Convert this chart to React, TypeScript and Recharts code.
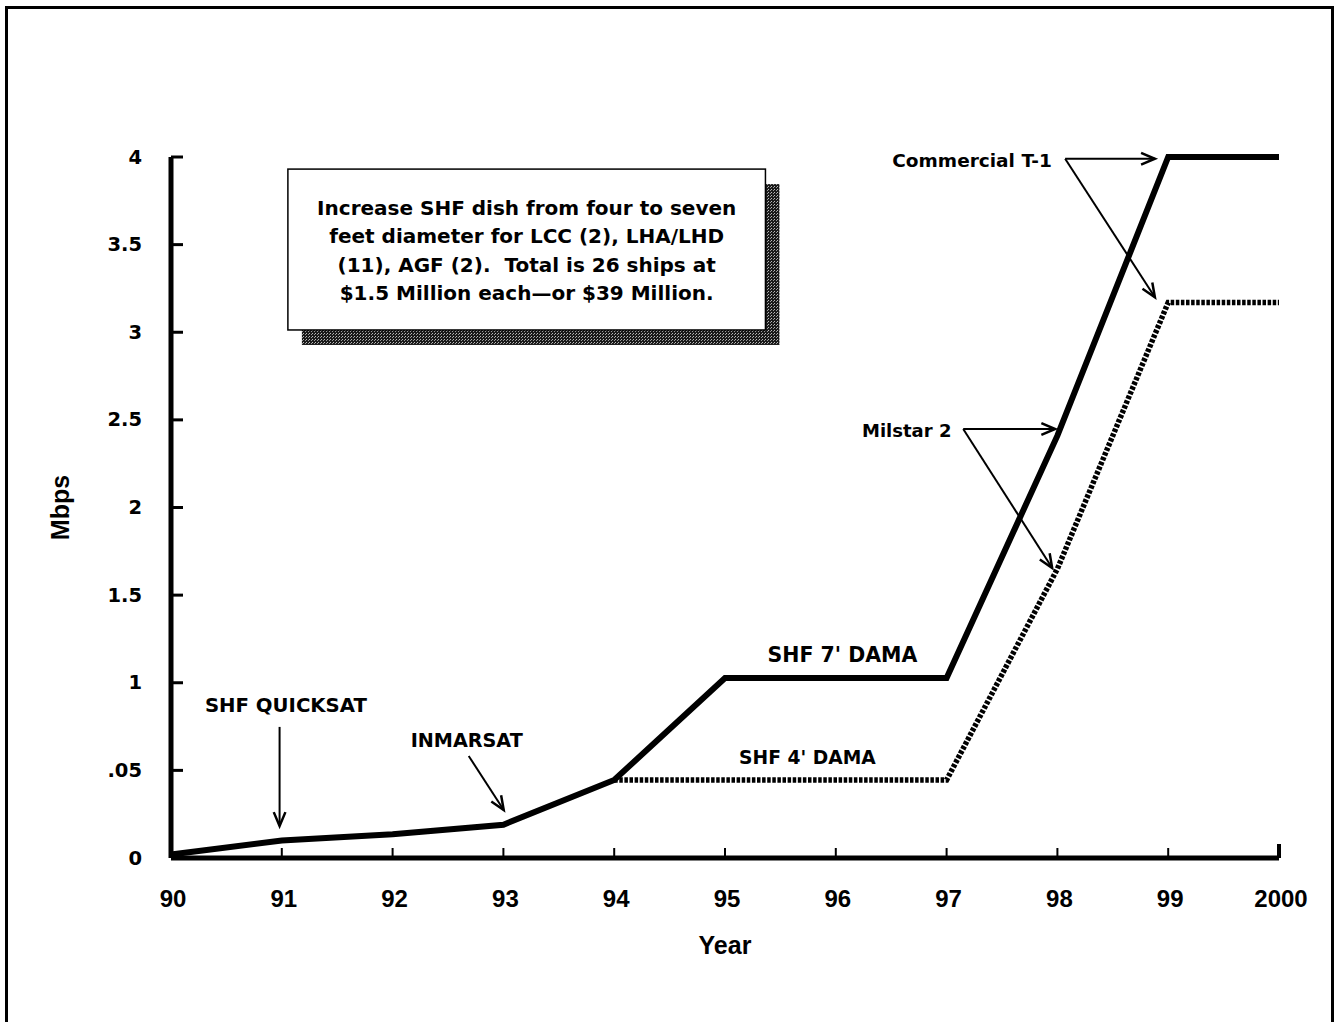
import React from 'react';
import {
  LineChart,
  Line,
  XAxis,
  YAxis,
  ReferenceLine,
  ReferenceDot,
  ReferenceArea,
  Label,
} from 'recharts';

// Years (90 … 2000 shown as 90 … 100 on a numeric axis)
const years = [90, 91, 92, 93, 94, 95, 96, 97, 98, 99, 100];
const yearLabels = ['90', '91', '92', '93', '94', '95', '96', '97', '98', '99', '2000'];

// Capacity in Mbps
const shf7Dama = [0.02, 0.1, 0.135, 0.19, 0.445, 1.027, 1.027, 1.027, 2.41, 4.0, 4.0];
const shf4Dama = [null, null, null, null, 0.445, 0.445, 0.445, 0.445, 1.65, 3.17, 3.17];

const yTicks = [0, 0.5, 1, 1.5, 2, 2.5, 3, 3.5, 4];
const yTickLabels = ['0', '.05', '1', '1.5', '2', '2.5', '3', '3.5', '4'];

const noteLines = [
  'Increase SHF dish from four to seven',
  'feet diameter for LCC (2), LHA/LHD',
  '(11), AGF (2).  Total is 26 ships at',
  '$1.5 Million each\u2014or $39 Million.',
];

type TextNote = { text: string; x: number; y: number; size: number };
const textNotes: TextNote[] = [
  { text: 'Commercial T-1', x: 97.23, y: 3.98, size: 18.5 },
  { text: 'Milstar 2', x: 96.64, y: 2.437, size: 18 },
  { text: "SHF 7' DAMA", x: 96.06, y: 1.158, size: 20.5 },
  { text: "SHF 4' DAMA", x: 95.744, y: 0.571, size: 18.7 },
  { text: 'SHF QUICKSAT', x: 91.037, y: 0.873, size: 19.7 },
  { text: 'INMARSAT', x: 92.669, y: 0.673, size: 19.2 },
];

type Arrow = { from: [number, number]; to: [number, number] };
const arrows: Arrow[] = [
  { from: [98.07, 3.99], to: [98.88, 3.99] },
  { from: [98.07, 3.99], to: [98.88, 3.2] },
  { from: [97.15, 2.448], to: [97.98, 2.448] },
  { from: [97.15, 2.448], to: [97.953, 1.655] },
  { from: [90.98, 0.748], to: [90.98, 0.183] },
  { from: [92.687, 0.582], to: [93.003, 0.274] },
];

const data = years.map((year, i) => ({
  year,
  shf7: shf7Dama[i],
  shf4: shf4Dama[i],
}));

const BOLD_FONT = '"DejaVu Sans", sans-serif';
const AXIS_FONT = '"Liberation Sans", Arial, sans-serif';

const YTick = (props: any) => {
  const { x, y, payload } = props;
  const idx = yTicks.indexOf(payload.value);
  return (
    <g>
      <line x1={x} x2={x + 12} y1={y} y2={y} stroke="#000" strokeWidth={3} />
      <text
        x={x - 29}
        y={y}
        textAnchor="end"
        dominantBaseline="central"
        fontFamily={BOLD_FONT}
        fontWeight="bold"
        fontSize={19.5}
        fill="#000"
      >
        {idx >= 0 ? yTickLabels[idx] : payload.value}
      </text>
    </g>
  );
};

const XTick = (props: any) => {
  const { x, y, payload } = props;
  const idx = years.indexOf(payload.value);
  const last = idx === years.length - 1;
  return (
    <g>
      {idx > 0 && (
        <line
          x1={x}
          x2={x}
          y1={y}
          y2={y - (last ? 14 : 10)}
          stroke="#000"
          strokeWidth={last ? 4 : 2}
        />
      )}
      <text
        x={x + 2}
        y={y + 40}
        textAnchor="middle"
        dominantBaseline="central"
        fontFamily={AXIS_FONT}
        fontWeight="bold"
        fontSize={24}
        fill="#000"
      >
        {idx >= 0 ? yearLabels[idx] : payload.value}
      </text>
    </g>
  );
};

const NoteText = (note: TextNote) => (props: any) => (
  <text
    x={props.cx}
    y={props.cy}
    textAnchor="middle"
    dominantBaseline="central"
    fontFamily={BOLD_FONT}
    fontWeight="bold"
    fontSize={note.size}
    fill="#000"
  >
    {note.text}
  </text>
);

const ArrowShape = (props: any) => {
  const { x1, y1, x2, y2 } = props;
  const ang = Math.atan2(y2 - y1, x2 - x1);
  const len = 15;
  const spread = 0.4;
  const ax = x2 - len * Math.cos(ang - spread);
  const ay = y2 - len * Math.sin(ang - spread);
  const bx = x2 - len * Math.cos(ang + spread);
  const by = y2 - len * Math.sin(ang + spread);
  return (
    <g>
      <line x1={x1} y1={y1} x2={x2} y2={y2} stroke="#000" strokeWidth={2} />
      <polyline
        points={`${ax},${ay} ${x2},${y2} ${bx},${by}`}
        fill="none"
        stroke="#000"
        strokeWidth={2.5}
        strokeLinejoin="miter"
      />
    </g>
  );
};

const NoteBox = (props: any) => {
  const { x, y, width, height } = props;
  const cx = x + width / 2;
  return (
    <g>
      <defs>
        <pattern id="stipple" width="3" height="3" patternUnits="userSpaceOnUse">
          <rect width="3" height="3" fill="#1a1a1a" />
          <rect x="0" y="0" width="1" height="1" fill="#bbb" />
          <rect x="2" y="1" width="1" height="1" fill="#999" />
        </pattern>
      </defs>
      <rect x={x + 14} y={y + 15} width={width} height={height} fill="url(#stipple)" />
      <rect x={x} y={y} width={width} height={height} fill="#fff" stroke="#000" strokeWidth={1.5} />
      {noteLines.map((line, i) => (
        <text
          key={i}
          x={cx}
          y={y + 39 + i * 28.4}
          textAnchor="middle"
          dominantBaseline="central"
          fontFamily={BOLD_FONT}
          fontWeight="bold"
          fontSize={20}
          fill="#000"
          style={{ whiteSpace: 'pre' }}
        >
          {line}
        </text>
      ))}
    </g>
  );
};

const YearLabel = (props: any) => {
  const vb = props.viewBox || {};
  return (
    <text
      x={vb.x + vb.width / 2}
      y={945}
      textAnchor="middle"
      dominantBaseline="central"
      fontFamily={AXIS_FONT}
      fontWeight="bold"
      fontSize={25}
      fill="#000"
    >
      Year
    </text>
  );
};

const MbpsLabel = (props: any) => {
  const vb = props.viewBox || {};
  const cy = vb.y + vb.height / 2;
  return (
    <text
      x={60}
      y={cy}
      textAnchor="middle"
      dominantBaseline="central"
      fontFamily={AXIS_FONT}
      fontWeight="bold"
      fontSize={25}
      fill="#000"
      transform={`rotate(-90, 60, ${cy})`}
    >
      Mbps
    </text>
  );
};

export default function App() {
  return (
    <div
      style={{
        position: 'absolute',
        left: 0,
        top: 0,
        width: 1335,
        height: 1022,
        overflow: 'hidden',
        background: '#fff',
      }}
    >
      <div
        style={{
          position: 'absolute',
          left: 5,
          top: 6,
          width: 1329,
          height: 1016,
          boxSizing: 'border-box',
          borderTop: '3px solid #000',
          borderLeft: '3px solid #000',
          borderRight: '3px solid #000',
        }}
      />
      <div style={{ position: 'absolute', left: 0, top: 0 }}>
        <LineChart
          width={1335}
          height={1022}
          data={data}
          margin={{ top: 157, right: 56, bottom: 0, left: 0 }}
        >
          <XAxis
            dataKey="year"
            type="number"
            domain={[90, 100]}
            ticks={years}
            interval={0}
            height={164}
            tickSize={0}
            tickMargin={0}
            tick={<XTick />}
            axisLine={{ stroke: '#000', strokeWidth: 5 }}
            tickLine={false}
          >
            <Label content={<YearLabel />} />
          </XAxis>
          <YAxis
            type="number"
            domain={[0, 4]}
            ticks={yTicks}
            interval={0}
            width={171}
            tickSize={0}
            tickMargin={0}
            tick={<YTick />}
            axisLine={{ stroke: '#000', strokeWidth: 5 }}
            tickLine={false}
          >
            <Label content={<MbpsLabel />} />
          </YAxis>

          <ReferenceArea
            x1={91.055}
            x2={95.365}
            y1={3.013}
            y2={3.931}
            ifOverflow="visible"
            shape={NoteBox}
          />

          <Line
            dataKey="shf4"
            stroke="#000"
            strokeWidth={5.5}
            strokeDasharray="3.5 1.6"
            dot={false}
            activeDot={false}
            connectNulls={false}
            isAnimationActive={false}
            type="linear"
          />
          <Line
            dataKey="shf7"
            stroke="#000"
            strokeWidth={6}
            dot={false}
            activeDot={false}
            isAnimationActive={false}
            type="linear"
            strokeLinejoin="miter"
          />

          {arrows.map((a, i) => (
            <ReferenceLine
              key={`arrow-${i}`}
              segment={[
                { x: a.from[0], y: a.from[1] },
                { x: a.to[0], y: a.to[1] },
              ]}
              ifOverflow="visible"
              shape={ArrowShape}
            />
          ))}

          {textNotes.map((n, i) => (
            <ReferenceDot
              key={`note-${i}`}
              x={n.x}
              y={n.y}
              r={0}
              ifOverflow="visible"
              shape={NoteText(n)}
            />
          ))}
        </LineChart>
      </div>
    </div>
  );
}
